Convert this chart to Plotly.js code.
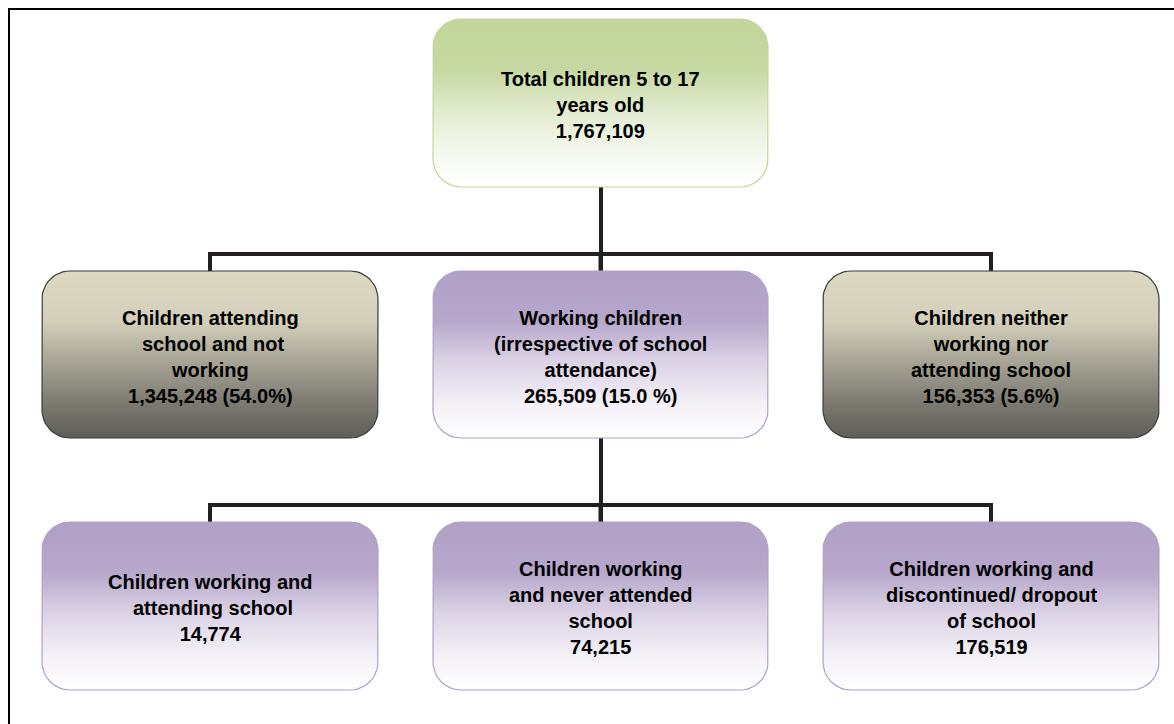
<!DOCTYPE html>
<html>
<head>
<meta charset="utf-8">
<script src="https://cdn.plot.ly/plotly-3.0.1.min.js"></script>
<style>html,body{margin:0;padding:0;background:#fff;}#chart{width:1174px;height:724px;}</style>
</head>
<body>
<div id="chart"></div>
<script>
// ---- data ----
const nodeLabels = [
  "Total children 5 to 17<br>years old",
  "Children attending<br> school and not<br>working",
  "Working children<br>(irrespective of school<br>attendance)",
  "Children neither<br>working nor<br>attending school",
  "Children working and<br> attending school",
  "Children working<br>and never attended<br>school",
  "Children working and<br>discontinued/ dropout<br>of school"
];
const nodeCounts = [1767109, 1345248, 265509, 156353, 14774, 74215, 176519];
const nodeShares = ["", "54.0%", "15.0 %", "5.6%", "", "", ""];
const nodeParents = [-1, 0, 0, 0, 2, 2, 2];

// ---- layout (pixel geometry, styles) ----
const W = 1174, H = 724;
const colsX = [[42, 378], [433, 768], [823, 1159]];
const rowsY = [[19, 187], [271, 438], [522, 690]];
const nodePos = [[1, 0], [0, 1], [1, 1], [2, 1], [0, 2], [1, 2], [2, 2]]; // [col,row]
const nodeStyle = ["green", "gray", "purple", "gray", "purple", "purple", "purple"];
const styles = {
  green: {border: "#c3d69b", scale: [[0, "#c3d69b"], [0.3, "#c6d8a1"], [0.55, "#e2ebd0"], [0.8, "#f5f8ef"], [1, "#ffffff"]]},
  gray: {border: "#3b3b3b", scale: [[0, "#ddd9c3"], [0.3, "#d3cfba"], [0.55, "#a6a395"], [0.8, "#7a786f"], [1, "#5e5d57"]]},
  purple: {border: "#b1a0c7", scale: [[0, "#b1a0c7"], [0.3, "#b6a7cb"], [0.55, "#dcd4e6"], [0.8, "#f4f1f7"], [1, "#ffffff"]]}
};
const R = 28;

function roundRect(x0, y0, x1, y1, r) {
  const xs = [], ys = [];
  const corners = [
    [x1 - r, y0 + r, -90, 0],
    [x1 - r, y1 - r, 0, 90],
    [x0 + r, y1 - r, 90, 180],
    [x0 + r, y0 + r, 180, 270]
  ];
  corners.forEach(([cx, cy, a0, a1]) => {
    for (let i = 0; i <= 12; i++) {
      const a = (a0 + (a1 - a0) * i / 12) * Math.PI / 180;
      xs.push(cx + r * Math.cos(a));
      ys.push(cy + r * Math.sin(a));
    }
  });
  xs.push(xs[0]); ys.push(ys[0]);
  return {xs, ys};
}

const traces = [];
const annotations = [];
nodeLabels.forEach((lab, i) => {
  const [c, r] = nodePos[i];
  const [x0, x1] = colsX[c];
  const [y0, y1] = rowsY[r];
  const st = styles[nodeStyle[i]];
  const p = roundRect(x0, y0, x1, y1, R);
  traces.push({
    type: "scatter", mode: "lines", x: p.xs, y: p.ys,
    fill: "toself",
    fillgradient: {type: "vertical", colorscale: st.scale, start: y0, stop: y1},
    line: {color: st.border, width: 1.2},
    hoverinfo: "skip", showlegend: false
  });
  const num = nodeCounts[i].toLocaleString("en-US");
  const txt = lab + "<br>" + (nodeShares[i] ? num + " (" + nodeShares[i] + ")" : num);
  annotations.push({
    x: (x0 + x1) / 2, y: (y0 + y1) / 2 + 2, xref: "x", yref: "y",
    text: "<b>" + txt + "</b>", showarrow: false, align: "center",
    font: {family: "Arial, 'Liberation Sans', sans-serif", size: 20, color: "#000000"}
  });
});

// connectors
const lineStyle = {color: "#231f20", width: 4};
const shapes = [];
[0, 2].forEach(par => {
  const kids = nodeParents.map((p, i) => p === par ? i : -1).filter(i => i >= 0);
  const [pc, pr] = nodePos[par];
  const px = (colsX[pc][0] + colsX[pc][1]) / 2 + 0.5;
  const pBottom = rowsY[pr][1];
  const childTop = rowsY[nodePos[kids[0]][1]][0];
  const busY = childTop - 17;
  const kidX = kids.map(k => (colsX[nodePos[k][0]][0] + colsX[nodePos[k][0]][1]) / 2);
  shapes.push({type: "line", xref: "x", yref: "y", x0: px, x1: px, y0: pBottom, y1: childTop, line: lineStyle, layer: "below"});
  shapes.push({type: "line", xref: "x", yref: "y", x0: Math.min(...kidX) - 2, x1: Math.max(...kidX) + 2, y0: busY, y1: busY, line: lineStyle, layer: "below"});
  kidX.forEach(kx => shapes.push({type: "line", xref: "x", yref: "y", x0: kx, x1: kx, y0: busY, y1: childTop, line: lineStyle, layer: "below"}));
});
// frame
shapes.push({type: "line", xref: "x", yref: "y", x0: 9, x1: 9, y0: 8, y1: H + 5, line: {color: "#000", width: 2}});
shapes.push({type: "line", xref: "x", yref: "y", x0: 8, x1: W + 5, y0: 9, y1: 9, line: {color: "#000", width: 2}});

const layout = {
  width: W, height: H,
  margin: {l: 0, r: 0, t: 0, b: 0, pad: 0},
  paper_bgcolor: "#ffffff", plot_bgcolor: "#ffffff",
  xaxis: {range: [0, W], visible: false, fixedrange: true},
  yaxis: {range: [H, 0], visible: false, fixedrange: true},
  shapes, annotations, showlegend: false, hovermode: false
};
Plotly.newPlot("chart", traces, layout, {staticPlot: true, displayModeBar: false});
</script>
</body>
</html>
